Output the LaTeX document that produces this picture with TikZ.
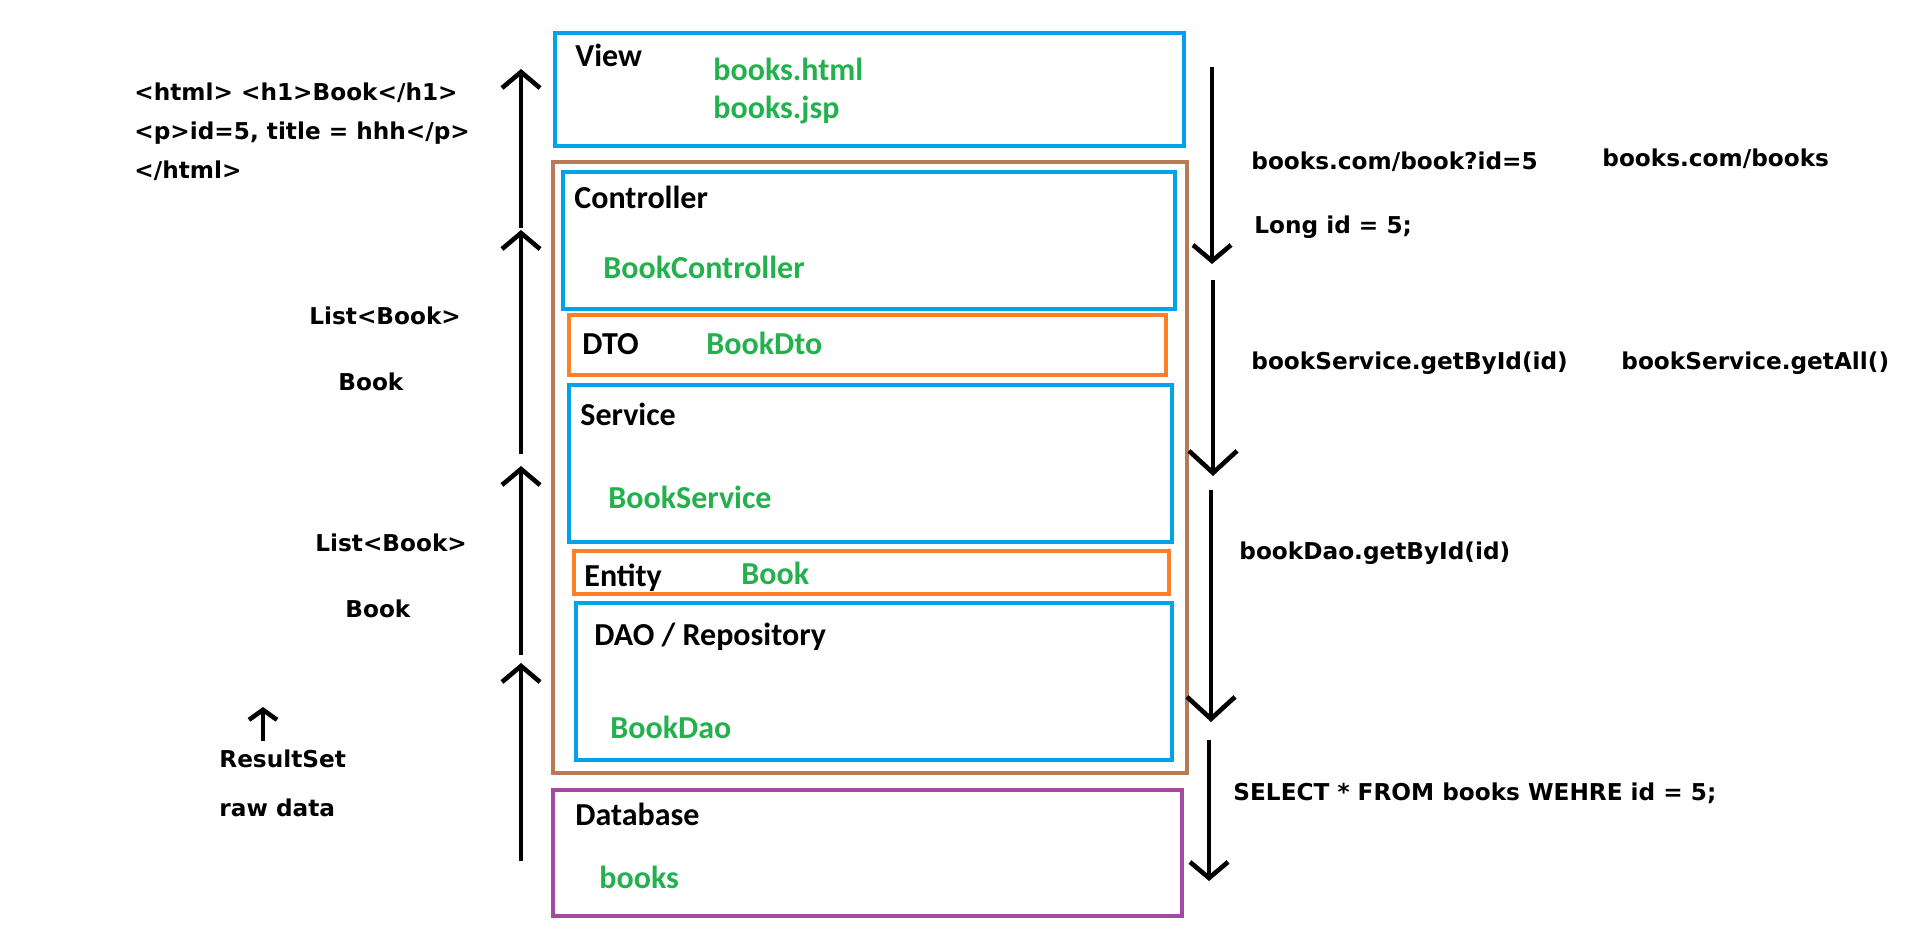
\documentclass[tikz,border=0pt]{standalone}
\usepackage{fontspec}
\setmainfont{Carlito}
\newfontfamily\notefont{DejaVu Sans}
\usepackage{xcolor}
\usetikzlibrary{arrows.meta,fit}

\definecolor{layerblue}{HTML}{00A2E8}
\definecolor{appbrown}{HTML}{B97A57}
\definecolor{modelorange}{HTML}{FF7F27}
\definecolor{dbpurple}{HTML}{A349A4}
\definecolor{implgreen}{HTML}{22B14C}

\begin{document}
\begin{tikzpicture}[
    x=0.5pt,y=-0.5pt,
    layer/.style={draw=#1,line width=2pt,inner sep=0pt},
    title/.style={anchor=base west,inner sep=0pt,font=\fontsize{16}{19}\selectfont\bfseries},
    impl/.style={title,text=implgreen},
    note/.style={anchor=base west,inner sep=0pt,font=\notefont\bfseries\fontsize{11.6}{14}\selectfont},
    flow/.style={line width=2.3pt,-{Straight Barb[length=8pt,width=19pt]}},
    bigflow/.style={line width=2.3pt,-{Straight Barb[length=11pt,width=24pt]}},
    smallflow/.style={line width=2.3pt,-{Straight Barb[length=5pt,width=14pt]}}
]
\useasboundingbox (0,0) rectangle (1914,935);

% layers
\node[layer=layerblue,fit={(555,33) (1184,146)}] (view) {};
\node[layer=appbrown,fit={(553,162) (1187,773)}] (app) {};
\node[layer=layerblue,fit={(563,172) (1175,309)}] (controller) {};
\node[layer=modelorange,fit={(569,315) (1166,375)}] (dto) {};
\node[layer=layerblue,fit={(569,385) (1172,542)}] (service) {};
\node[layer=modelorange,fit={(574,551) (1169,594)}] (entity) {};
\node[layer=layerblue,fit={(576,603) (1172,760)}] (dao) {};
\node[layer=dbpurple,fit={(553,790) (1182,916)}] (database) {};

% layer titles and classes
\node[title] (viewname) at (575,67) {View};
\node[impl] (viewhtml) at (713,81) {books.html};
\node[impl] (viewjsp) at (713,119) {books.jsp};
\node[title] (controllername) at (574,209) {Controller};
\node[impl] (controllerclass) at (603,279) {BookController};
\node[title] (dtoname) at (582,354) {DTO};
\node[impl] (dtoclass) at (706,354) {BookDto};
\node[title] (servicename) at (580,425) {Service};
\node[impl] (serviceclass) at (608,508) {BookService};
\node[title] (entityname) at (584,586) {Entity};
\node[impl] (entityclass) at (741,584) {Book};
\node[title] (daoname) at (594,645) {DAO / Repository};
\node[impl] (daoclass) at (610,738) {BookDao};
\node[title] (databasename) at (575,825) {Database};
\node[impl] (databasetable) at (599,888) {books};

% response side
\node[note] (html1) at (134,101) {<html> <h1>Book</h1>};
\node[note] (html2) at (134,140) {<p>id=5, title = hhh</p>};
\node[note] (html3) at (134,179) {</html>};
\node[note] (list1) at (309,324) {List<Book>};
\node[note] (book1) at (338,390) {Book};
\node[note] (list2) at (315,551) {List<Book>};
\node[note] (book2) at (345,617) {Book};
\node[note] (resultset) at (219,767) {ResultSet};
\node[note] (rawdata) at (219,816) {raw data};

\coordinate (up1s) at (521,228);
\coordinate (up1e) at (521,69);
\coordinate (up2s) at (521,454);
\coordinate (up2e) at (521,230);
\coordinate (up3s) at (521,655);
\coordinate (up3e) at (521,466);
\coordinate (up4s) at (521,861);
\coordinate (up4e) at (521,663);
\coordinate (rss) at (263,741);
\coordinate (rse) at (263,707);
\draw[flow] (up1s) -- (up1e);
\draw[flow] (up2s) -- (up2e);
\draw[flow] (up3s) -- (up3e);
\draw[flow] (up4s) -- (up4e);
\draw[smallflow] (rss) -- (rse);

% request side
\node[note] (url1) at (1251,170) {books.com/book?id=5};
\node[note] (url2) at (1602,167) {books.com/books};
\node[note] (idvar) at (1254,234) {Long id = 5;};
\node[note] (svc1) at (1251,369) {bookService.getById(id)};
\node[note] (svc2) at (1621,369) {bookService.getAll()};
\node[note] (daocall) at (1239,559) {bookDao.getById(id)};
\node[note] (sql) at (1233,800) {SELECT * FROM books WEHRE id = 5;};

\coordinate (down1s) at (1212,67);
\coordinate (down1e) at (1212,264);
\coordinate (down2s) at (1213,280);
\coordinate (down2e) at (1213,476);
\coordinate (down3s) at (1211,490);
\coordinate (down3e) at (1211,722);
\coordinate (down4s) at (1209,740);
\coordinate (down4e) at (1209,881);
\draw[flow] (down1s) -- (down1e);
\draw[bigflow] (down2s) -- (down2e);
\draw[bigflow] (down3s) -- (down3e);
\draw[flow] (down4s) -- (down4e);
\end{tikzpicture}
\end{document}
